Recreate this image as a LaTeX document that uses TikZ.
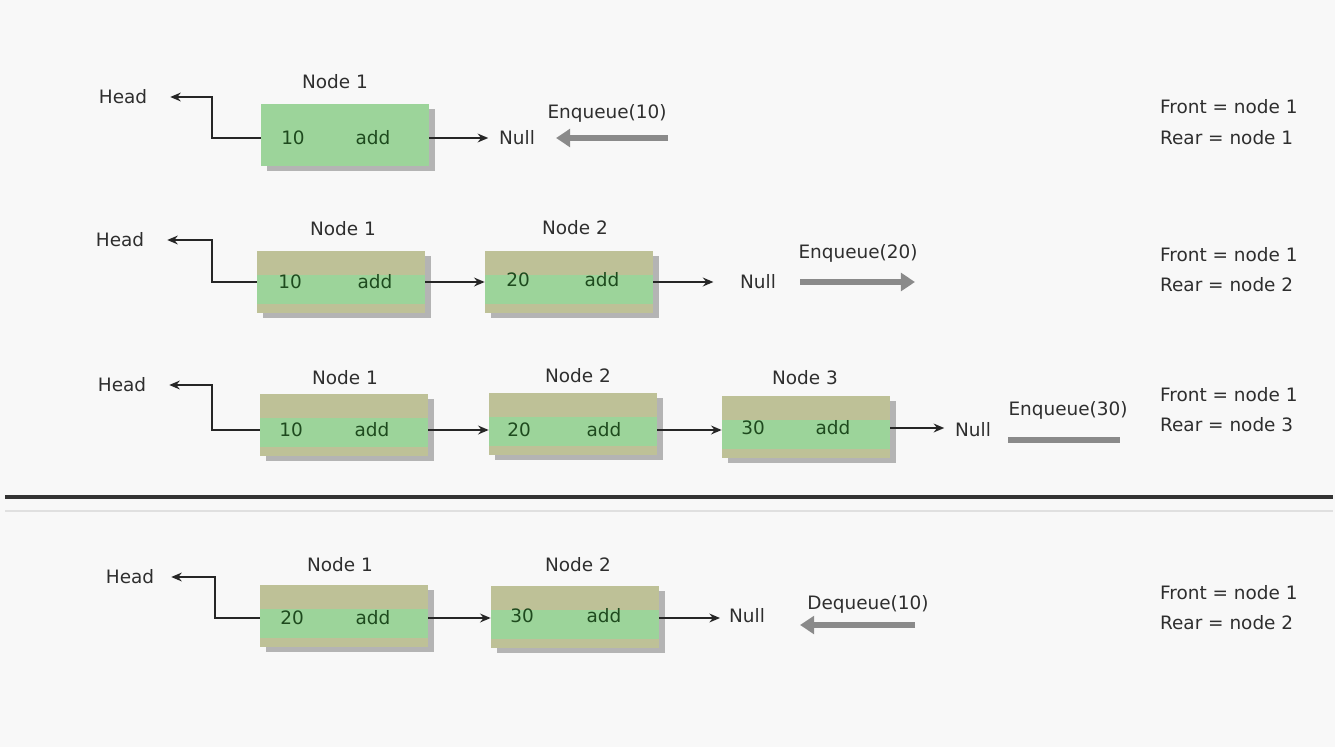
\documentclass[tikz,border=0pt]{standalone}
\usepackage{fontspec}
\setmainfont{DejaVu Sans}
\usetikzlibrary{arrows.meta,shadows,calc}
\definecolor{bg}{HTML}{F8F8F8}
\definecolor{boxgreen}{HTML}{9CD49A}
\definecolor{olive}{HTML}{BEC197}
\definecolor{shade}{HTML}{B4B4B4}
\definecolor{txt}{HTML}{2E2E2E}
\definecolor{boxtxt}{HTML}{1E4A1E}
\definecolor{opgray}{HTML}{8A8A8A}
\definecolor{rule}{HTML}{333333}
\begin{document}
\begin{tikzpicture}[x=0.02cm,y=-0.02cm,
 every node/.style={font=\fontsize{10.5}{12}\selectfont, text=txt, inner sep=1pt},
 qbox/.style={minimum width=3.36cm, minimum height=1.24cm, inner sep=0pt, fill=boxgreen,
   drop shadow={shadow xshift=0.12cm, shadow yshift=-0.1cm, fill=shade, opacity=1}},
 qboxb/.style={qbox, fill=olive, path picture={\fill[boxgreen]
   ($(path picture bounding box.south west)+(0cm,0.18cm)$) rectangle
   ($(path picture bounding box.north east)+(0cm,-0.48cm)$);}},
 val/.style={text=boxtxt},
 side/.style={anchor=west},
 link/.style={draw=black!85, line width=1.5pt, -{Stealth[length=6pt,width=5pt]}},
 headlink/.style={link, shorten >=0.42cm},
 oparrow/.style={draw=opgray, line width=3pt, -{Triangle[length=8pt,width=10pt]}},
 opline/.style={draw=opgray, line width=3pt},
]
\useasboundingbox (0,0) rectangle (1335,747);
\fill[bg] (0,0) rectangle (1335,747);

% ---------- Row 1 ----------
\node (h1) at (123,97) {Head};
\node[qbox] (a1) at (345,135) {};
\node[val] (a1v) at (293,138) {10};
\node[val] (a1p) at (373,138) {add};
\node (a1t) at (335,82) {Node 1};
\node (n1) at (517,138) {Null};
\node (e1) at (607,113) {Enqueue(10)};
\coordinate (e1s) at (668,138);
\coordinate (e1t) at (556,138);
\coordinate (k1) at (212,97);
\node[side] (f1) at (1158,107) {Front = node 1};
\node[side] (r1) at (1158,138) {Rear = node 1};
\draw[headlink] (a1.west |- a1v) -| (k1) -- (h1.east);
\draw[link, shorten >=5pt] (a1.east |- a1v) -- (n1.west);
\draw[oparrow] (e1s) -- (e1t);

% ---------- Row 2 ----------
\node (h2) at (120,240) {Head};
\node[qboxb] (b1) at (341,282) {};
\node[qboxb] (b2) at (569,282) {};
\node[val] (b1v) at (290,282) {10};
\node[val] (b1p) at (375,282) {add};
\node[val] (b2v) at (518,280) {20};
\node[val] (b2p) at (602,280) {add};
\node (b1t) at (343,229) {Node 1};
\node (b2t) at (575,228) {Node 2};
\node (n2) at (758,282) {Null};
\node (e2) at (858,253) {Enqueue(20)};
\coordinate (e2s) at (800,282);
\coordinate (e2t) at (915,282);
\coordinate (k2) at (212,240);
\node[side] (f2) at (1158,255) {Front = node 1};
\node[side] (r2) at (1158,285) {Rear = node 2};
\draw[headlink] (b1.west |- b1v) -| (k2) -- (h2.east);
\draw[link] (b1.east |- b1v) -- (b2.west |- b1v);
\draw[link, shorten >=14pt] (b2.east |- b1v) -- (n2.west |- b1v);
\draw[oparrow] (e2s) -- (e2t);

% ---------- Row 3 ----------
\node (h3) at (122,385) {Head};
\node[qboxb] (c1) at (344,425) {};
\node[qboxb] (c2) at (573,424) {};
\node[qboxb] (c3) at (806,427) {};
\node[val] (c1v) at (291,430) {10};
\node[val] (c1p) at (372,430) {add};
\node[val] (c2v) at (519,430) {20};
\node[val] (c2p) at (604,430) {add};
\node[val] (c3v) at (753,428) {30};
\node[val] (c3p) at (833,428) {add};
\node (c1t) at (345,378) {Node 1};
\node (c2t) at (578,376) {Node 2};
\node (c3t) at (805,378) {Node 3};
\node (n3) at (973,430) {Null};
\node (e3) at (1068,410) {Enqueue(30)};
\coordinate (e3s) at (1008,440);
\coordinate (e3t) at (1120,440);
\coordinate (k3) at (212,385);
\node[side] (f3) at (1158,395) {Front = node 1};
\node[side] (r3) at (1158,425) {Rear = node 3};
\draw[headlink] (c1.west |- c1v) -| (k3) -- (h3.east);
\draw[link] (c1.east |- c1v) -- (c2.west |- c1v);
\draw[link] (c2.east |- c1v) -- (c3.west |- c1v);
\draw[link, shorten >=5pt] (c3.east |- c3v) -- (n3.west |- c3v);
\draw[opline] (e3s) -- (e3t);

% ---------- divider ----------
\coordinate (dl) at (5,497);
\coordinate (dr) at (1333,497);
\coordinate (dl2) at (5,511);
\coordinate (dr2) at (1333,511);
\draw[rule, line width=2.3pt] (dl) -- (dr);
\draw[black!12, line width=0.8pt] (dl2) -- (dr2);

% ---------- Row 4 ----------
\node (h4) at (130,577) {Head};
\node[qboxb] (d1) at (344,616) {};
\node[qboxb] (d2) at (575,617) {};
\node[val] (d1v) at (292,618) {20};
\node[val] (d1p) at (373,618) {add};
\node[val] (d2v) at (522,616) {30};
\node[val] (d2p) at (604,616) {add};
\node (d1t) at (340,565) {Node 1};
\node (d2t) at (578,565) {Node 2};
\node (n4) at (747,616) {Null};
\node (e4) at (868,604) {Dequeue(10)};
\coordinate (e4s) at (915,625);
\coordinate (e4t) at (800,625);
\coordinate (k4) at (215,577);
\node[side] (f4) at (1158,593) {Front = node 1};
\node[side] (r4) at (1158,623) {Rear = node 2};
\draw[link, shorten >=0.3cm] (d1.west |- d1v) -| (k4) -- (h4.east);
\draw[link] (d1.east |- d1v) -- (d2.west |- d1v);
\draw[link, shorten >=4pt] (d2.east |- d1v) -- (n4.west |- d1v);
\draw[oparrow] (e4s) -- (e4t);
\end{tikzpicture}
\end{document}
